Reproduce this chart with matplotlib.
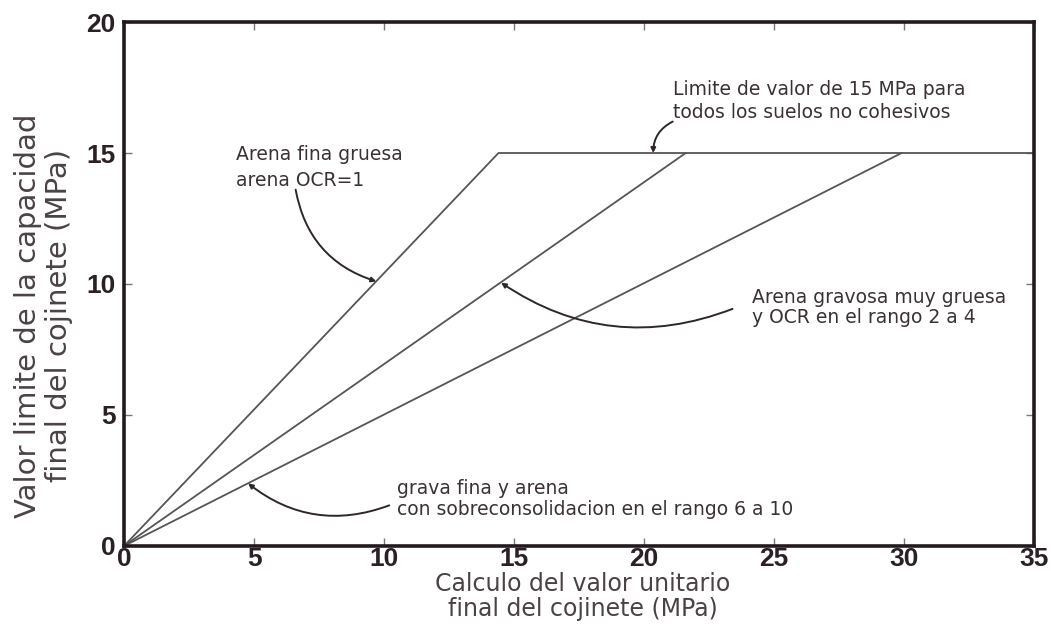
import matplotlib
matplotlib.use("Agg")
import matplotlib.pyplot as plt

# Rectas de capacidad limite (punto de quiebre en 15 MPa)
limite = 15.0
x_max = 35.0
x_quiebre = [14.4, 21.6, 29.9]   # valor unitario donde cada recta llega a 15 MPa
x_ticks = [0, 5, 10, 15, 20, 25, 30, 35]
y_ticks = [0, 5, 10, 15, 20]

# Textos de las anotaciones: texto, posicion del texto, inicio y fin de la flecha, curvatura
notas = [
    ("Arena fina gruesa\narena OCR=1", (4.3, 15.3), (6.6, 13.6), (9.7, 10.1), 0.3, 1.45),
    ("Limite de valor de 15 MPa para\ntodos los suelos no cohesivos", (21.1, 17.8), (21.1, 16.2), (20.35, 15.0), 0.3, 1.3),
    ("Arena gravosa muy gruesa\ny OCR en el rango 2 a 4", (24.15, 9.85), (23.4, 9.05), (14.5, 10.05), -0.26, 1.05),
    ("grava fina y arena\ncon sobreconsolidacion en el rango 6 a 10", (10.5, 2.55), (10.2, 1.55), (4.77, 2.39), -0.28, 1.1),
]

color_texto = "#3a3136"
color_eje = "#221a1f"

fig = plt.figure(figsize=(10.51, 6.29), dpi=100)
ax = fig.add_axes([0.118, 0.132, 0.866, 0.833])

# la primera recta sigue horizontal en 15 MPa hasta el final
ax.plot([0, x_quiebre[0], x_max], [0, limite, limite], color="#555", lw=1.3)
for xq in x_quiebre[1:]:
    ax.plot([0, xq], [0, limite], color="#555", lw=1.3)

for texto, pos, ini, fin, rad, esp in notas:
    ax.text(pos[0], pos[1], texto, fontsize=13.5, color=color_texto, va="top", ha="left",
            linespacing=esp)
    ax.annotate("", xy=fin, xytext=ini,
                arrowprops=dict(arrowstyle="-|>", color="#2e262b", lw=1.4, mutation_scale=7,
                                connectionstyle=f"arc3,rad={rad}", shrinkA=0, shrinkB=0))

ax.set_xlim(0, x_max)
ax.set_ylim(0, 20)
ax.set_xticks(x_ticks)
ax.set_yticks(y_ticks)
ax.tick_params(direction="in", length=6, width=1, color="#777", top=True, right=True,
               labelsize=19, labelcolor="#2a2026")
ax.tick_params(axis="x", pad=1)
ax.tick_params(axis="y", pad=6)
for lab in ax.get_xticklabels() + ax.get_yticklabels():
    lab.set_fontfamily("Liberation Sans")
    lab.set_fontweight("bold")

for s in ax.spines.values():
    s.set_linewidth(2.6)
    s.set_color(color_eje)

ax.set_xlabel("Calculo del valor unitario\nfinal del cojinete (MPa)", fontsize=17,
              color="#4a4246", linespacing=1.05, va="top")
ax.xaxis.set_label_coords(0.504, -0.05)
ax.set_ylabel("Valor limite de la capacidad\nfinal del cojinete (MPa)", fontsize=21,
              color="#4a4246", linespacing=1.15)
ax.yaxis.set_label_coords(-0.056, 0.44)

fig.savefig("out.png", dpi=100)
